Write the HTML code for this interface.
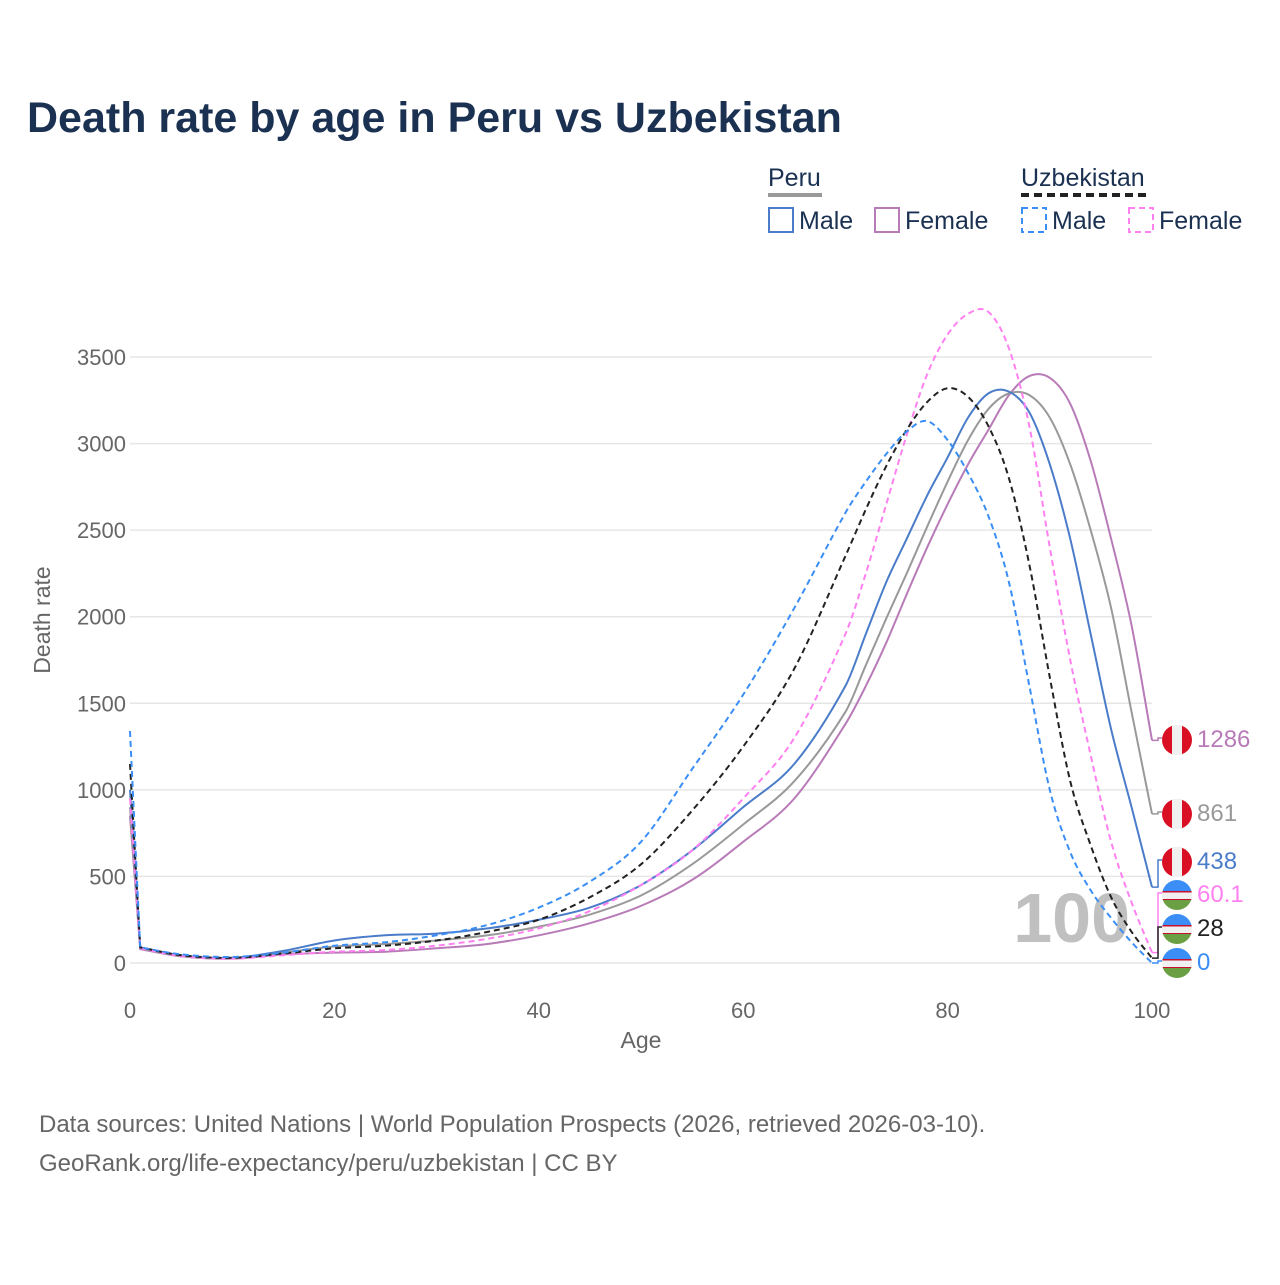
<!DOCTYPE html>
<html><head><meta charset="utf-8">
<style>
body{margin:0;background:#fff;width:1280px;height:1280px;overflow:hidden;font-family:"Liberation Sans",sans-serif;}
</style></head>
<body>
<svg id="chart" width="1280" height="1280" viewBox="0 0 1280 1280" xmlns="http://www.w3.org/2000/svg" font-family="Liberation Sans, sans-serif">
<text x="27" y="132" font-size="43" font-weight="bold" fill="#1b3152">Death rate by age in Peru vs Uzbekistan</text>
<g font-size="25" fill="#1b3152">
 <text x="768" y="186">Peru</text>
 <line x1="768" y1="195" x2="822" y2="195" stroke="#999" stroke-width="4"/>
 <text x="1021" y="186">Uzbekistan</text>
 <line x1="1021" y1="195" x2="1149" y2="195" stroke="#222" stroke-width="4" stroke-dasharray="8,5"/>
 <g><rect x="769" y="208" width="24" height="24" fill="none" stroke="#4a7cc9" stroke-width="2"/><text x="799" y="229">Male</text></g>
 <g><rect x="875" y="208" width="24" height="24" fill="none" stroke="#b87bb8" stroke-width="2"/><text x="905" y="229">Female</text></g>
 <g><rect x="1022" y="208" width="24" height="24" fill="none" stroke="#3a8ef5" stroke-width="2" stroke-dasharray="6,4"/><text x="1052" y="229">Male</text></g>
 <g><rect x="1129" y="208" width="24" height="24" fill="none" stroke="#ff80f0" stroke-width="2" stroke-dasharray="6,4"/><text x="1159" y="229">Female</text></g>
</g>
<g id="grid"></g>
<text x="1130" y="942" font-size="70" font-weight="bold" fill="#c0c0c0" text-anchor="end">100</text>
<g id="series"></g>
<g id="labels"></g>
<text transform="translate(50,620) rotate(-90)" font-size="23" fill="#666" text-anchor="middle">Death rate</text>
<text x="641" y="1048" font-size="23" fill="#666" text-anchor="middle">Age</text>
<text x="39" y="1132" font-size="24" fill="#666">Data sources: United Nations | World Population Prospects (2026, retrieved 2026-03-10).</text>
<text x="39" y="1171" font-size="24" fill="#666">GeoRank.org/life-expectancy/peru/uzbekistan | CC BY</text>
</svg>
<script>
const xTicks=[0,20,40,60,80,100];
const yTicks=[0,500,1000,1500,2000,2500,3000,3500];
const ages=[0,1,5,10,15,20,25,30,35,40,45,50,55,60,65,70,72,74,76,78,80,82,84,86,88,90,92,94,96,98,100];
const uzbMale=[1340,90,50,35,60,100,120,160,220,320,470,700,1120,1550,2050,2600,2780,2940,3070,3130,3020,2830,2580,2200,1600,1000,640,420,260,120,0];
const uzbTotal=[1150,90,45,30,55,85,100,130,180,250,380,570,880,1250,1700,2350,2620,2870,3080,3240,3320,3270,3100,2800,2300,1650,1050,680,380,180,28];
const uzbFemale=[950,85,40,25,45,65,75,100,140,200,300,450,650,950,1300,1900,2250,2650,3050,3400,3630,3750,3760,3550,3100,2400,1750,1200,700,350,60.1];
const peruMale=[1000,90,45,30,70,130,160,170,200,250,320,450,650,900,1150,1600,1900,2200,2450,2700,2920,3150,3290,3300,3180,2880,2450,1900,1350,900,438];
const peruTotal=[900,85,40,28,60,95,110,130,160,210,280,390,570,800,1050,1450,1720,1990,2250,2520,2780,3020,3200,3290,3280,3150,2880,2500,2050,1450,861];
const peruFemale=[850,80,38,25,50,60,65,85,110,160,230,330,480,700,950,1380,1600,1850,2130,2400,2650,2880,3080,3280,3390,3380,3230,2900,2450,1950,1286];
const endLabels=["1286","861","438","60.1","28","0"];
const NS="http://www.w3.org/2000/svg";
const X=a=>130+a*10.22, Y=v=>963-v*0.17314;
const grid=document.getElementById('grid');
function mk(t,attrs,parent){const e=document.createElementNS(NS,t);for(const k in attrs)e.setAttribute(k,attrs[k]);parent.appendChild(e);return e;}
yTicks.forEach(v=>{
 const l=mk('line',{x1:130,x2:1152,y1:Y(v),y2:Y(v),stroke:'#e6e6e6','stroke-width':1.5},grid);
 
 
 const t=mk('text',{x:126,y:Y(v)+8,'font-size':22,fill:'#666','text-anchor':'end'},grid);t.textContent=v;
 
 
});
xTicks.forEach(a=>{
 const t=mk('text',{x:X(a),y:1018,'font-size':22,fill:'#666','text-anchor':'middle'},grid);t.textContent=a;
 
 
});
function pathD(vals){
 const p=ages.map((a,i)=>[X(a),Y(vals[i])]);
 let d=`M${p[0][0]},${p[0][1]} L${p[1][0]},${p[1][1]}`;
 for(let i=1;i<p.length-1;i++){
  const p0=p[i-1<1?1:i-1],p1=p[i],p2=p[i+1],p3=p[i+2]||p[i+1];
  const h=p2[0]-p1[0];
  const s1=(p2[1]-p0[1])/(p2[0]-p0[0]||1), s2=(p3[1]-p1[1])/(p3[0]-p1[0]||1);
  const c1=[p1[0]+h/3,p1[1]+s1*h/3],c2=[p2[0]-h/3,p2[1]-s2*h/3];
  d+=` C${c1[0]},${c1[1]} ${c2[0]},${c2[1]} ${p2[0]},${p2[1]}`;
 }
 return d;
}
const S=document.getElementById('series');
const defs=[
 ['line-peru-female',peruFemale,'#b87bb8',''],
 ['line-peru-total',peruTotal,'#999',''],
 ['line-peru-male',peruMale,'#4a7cc9',''],
 ['line-uzbekistan-female',uzbFemale,'#ff80f0','6,4'],
 ['line-uzbekistan-total',uzbTotal,'#222','6,4'],
 ['line-uzbekistan-male',uzbMale,'#3a8ef5','6,4']];
defs.forEach(d=>{
 const e=mk('path',{d:pathD(d[1]),fill:'none',stroke:d[2],'stroke-width':2,'stroke-dasharray':d[3]},S);
 
 
});
const L=document.getElementById('labels');
const labelY=[738,812,860,893,927,961];
const peruFlag=[1,1,1,0,0,0];
defs.forEach((d,i)=>{
 const vy=Y(d[1][d[1].length-1]);
 mk('polyline',{points:`1152,${vy} 1158,${vy} 1158,${labelY[i]} 1162,${labelY[i]}`,fill:'none',stroke:d[2],'stroke-width':1.5},L);
 const g=mk('g',{},L);
 
 
 const cx=1177,cy=labelY[i]+2;
 if(peruFlag[i]){
  mk('circle',{cx,cy,r:15,fill:'#d91023'},g);
  mk('rect',{x:cx-5,y:cy-15,width:10,height:30,fill:'#f0f0f0'},g);
 } else {
  const id='c'+i;const cp=mk('clipPath',{id},g);mk('circle',{cx,cy,r:15},cp);
  const gg=mk('g',{'clip-path':`url(#${id})`},g);
  mk('rect',{x:cx-15,y:cy-15,width:30,height:11,fill:'#3a8ef5'},gg);
  mk('rect',{x:cx-15,y:cy-4,width:30,height:9,fill:'#f0f0f0'},gg);
  mk('rect',{x:cx-15,y:cy-4,width:30,height:1.5,fill:'#c8102e'},gg);
  mk('rect',{x:cx-15,y:cy+4,width:30,height:1.5,fill:'#c8102e'},gg);
  mk('rect',{x:cx-15,y:cy+5,width:30,height:10,fill:'#6aa043'},gg);
 }
 const t=mk('text',{x:1197,y:labelY[i]+9,'font-size':24,fill:d[2]},L);t.textContent=endLabels[i];
 
 
});
</script>
</body></html>
